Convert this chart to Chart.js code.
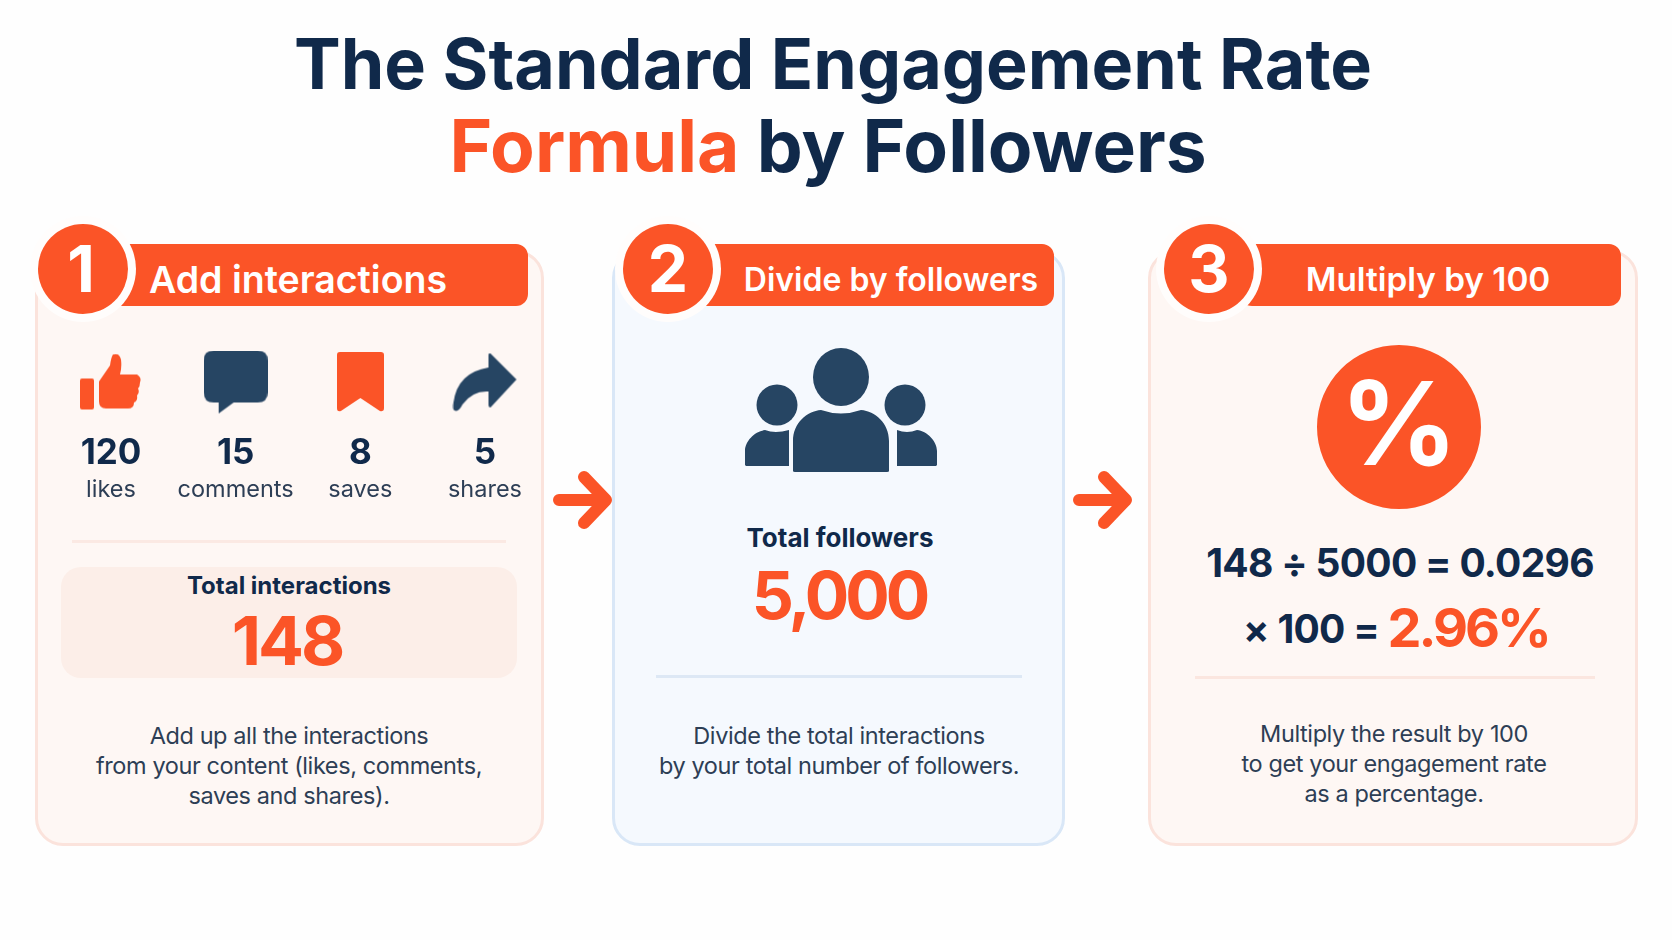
<!DOCTYPE html>
<html>
<head>
<meta charset="utf-8">
<title>The Standard Engagement Rate Formula by Followers</title>
<script src="https://cdn.jsdelivr.net/npm/chart.js@4"></script>
<style>
html,body{margin:0;padding:0;background:#fefefe;}
body{position:relative;width:1672px;height:940px;overflow:hidden;font-family:Inter,"Noto Sans",sans-serif;color:#10294a;}
.t{position:absolute;transform:translate(-50%,-50%);white-space:nowrap;text-align:center;}
.card{position:absolute;top:250px;height:590px;border-radius:28px;border:3px solid #fbe3dc;background:#fef7f4;box-sizing:content-box;}
.card.blue{border-color:#d9e7f7;background:#f5f9fe;}
.bar{position:absolute;top:244px;height:62px;background:#fb5427;border-radius:12px;}
.num{position:absolute;top:269px;width:90px;height:90px;margin:-45px 0 0 -45px;border-radius:50%;background:#fb5427;box-shadow:0 0 0 8px #fffdfc;}
.head{font-weight:600;color:#fff;top:279px;}
.digit{font-weight:700;color:#fff;top:268px;font-size:64px;}
.rule{position:absolute;height:3px;}
.desc{font-size:23.5px;line-height:30px;letter-spacing:-0.4px;color:#2d3e55;font-weight:400;}
.o{color:#fb5427;}
canvas{position:absolute;}
svg{position:absolute;}
</style>
</head>
<body>

<div class="t" style="left:833px;top:63px;font-size:70px;font-weight:700;"><span id="title1">The Standard Engagement Rate</span></div>
<div class="t" style="left:828px;top:145px;font-size:73px;font-weight:700;"><span class="o">Formula</span> by Followers</div>

<!-- cards -->
<div class="card" style="left:35px;width:503px;"></div>
<div class="card blue" style="left:612px;width:447px;"></div>
<div class="card" style="left:1148px;width:484px;"></div>

<div class="bar" style="left:110px;width:418px;"></div>
<div class="bar" style="left:690px;width:364px;"></div>
<div class="bar" style="left:1240px;width:381px;"></div>

<div class="num" style="left:83px;"></div>
<div class="num" style="left:668px;"></div>
<div class="num" style="left:1209px;"></div>

<div class="t digit" style="left:81px;">1</div>
<div class="t digit" style="left:668px;">2</div>
<div class="t digit" style="left:1209px;">3</div>

<div class="t head" style="left:298px;font-size:37.5px;">Add interactions</div>
<div class="t head" style="left:891px;font-size:32px;">Divide by followers</div>
<div class="t head" style="left:1428px;font-size:33.3px;">Multiply by 100</div>

<!-- step 1 -->
<canvas id="interactions" width="527" height="192" style="left:35px;top:332px;"></canvas>
<div class="rule" style="left:72px;top:540px;width:434px;background:#fbe9e3;"></div>
<div style="position:absolute;left:61px;top:567px;width:456px;height:111px;border-radius:20px;background:#fceee8;"></div>
<div class="t" style="left:289px;top:585px;font-size:24px;font-weight:700;">Total interactions</div>
<div class="t o" id="totalInt" style="left:287px;top:640px;font-size:68px;font-weight:700;letter-spacing:-3px;"></div>
<div class="t desc" style="left:289px;top:766px;">Add up all the interactions<br>from your content (likes, comments,<br>saves and shares).</div>

<!-- step 2 -->
<svg style="left:745px;top:345px;" width="193" height="128" viewBox="0 0 193 128" fill="#264563">
  <ellipse cx="96" cy="32" rx="28" ry="29"/>
  <path d="M48 126 V96 C48 78 62 66 76 65 Q96 72 116 65 C130 66 144 78 144 96 V126 Q144 127 142 127 H50 Q48 127 48 126 Z"/>
  <circle cx="32" cy="60" r="20.5"/>
  <circle cx="160" cy="60" r="20.5"/>
  <path d="M0 120 V106 C0 96 10 86 20 85 Q30 89 44 85 V121 H1 Z"/>
  <path d="M192 120 V106 C192 96 182 86 172 85 Q162 89 152 85 V121 H191 Z"/>
</svg>
<div class="t" style="left:840px;top:537px;font-size:26px;font-weight:700;">Total followers</div>
<div class="t o" id="totalFol" style="left:839px;top:595px;font-size:66px;font-weight:700;letter-spacing:-4px;"></div>
<div class="rule" style="left:656px;top:675px;width:366px;background:#dde8f5;"></div>
<div class="t desc" style="left:839px;top:751px;">Divide the total interactions<br>by your total number of followers.</div>

<!-- step 3 -->
<canvas id="percent" width="164" height="164" style="left:1317px;top:345px;"></canvas>
<div class="t" id="formula1" style="left:1400px;top:562px;font-size:39px;font-weight:700;letter-spacing:-0.7px;"></div>
<div class="t" style="left:1396px;top:627px;font-size:39px;font-weight:700;letter-spacing:-0.7px;"><span id="formula2" style="position:relative;top:-4px;"></span> <span class="o" id="rate" style="font-size:54px;font-weight:700;letter-spacing:-3px;"></span></div>
<div class="rule" style="left:1195px;top:676px;width:400px;background:#fbe6df;"></div>
<div class="t desc" style="left:1394px;top:764px;">Multiply the result by 100<br>to get your engagement rate<br>as a percentage.</div>

<!-- arrows -->
<svg style="left:553px;top:470px;" width="60" height="60" viewBox="0 0 60 60" fill="none" stroke="#fb5427" stroke-width="12" stroke-linecap="round" stroke-linejoin="round">
  <path d="M6 30 H52 M31 7 L53 30 L31 53"/>
</svg>
<svg style="left:1073px;top:470px;" width="60" height="60" viewBox="0 0 60 60" fill="none" stroke="#fb5427" stroke-width="12" stroke-linecap="round" stroke-linejoin="round">
  <path d="M6 30 H52 M31 7 L53 30 L31 53"/>
</svg>

<script>
//chart data
var interactionLabels = ['likes','comments','saves','shares'];
var interactionValues = [120,15,8,5];
var totalInteractions = 148;
var totalFollowers = 5000;
var ratio = 0.0296;
var multiplier = 100;
var ratePercent = 2.96;

var orange = '#fb5427';
var navy = '#264563';

document.getElementById('totalInt').textContent = totalInteractions;
document.getElementById('totalFol').textContent = totalFollowers.toLocaleString('en-US');
document.getElementById('formula1').textContent = totalInteractions + ' ÷ ' + totalFollowers + ' = ' + ratio;
document.getElementById('formula2').textContent = '× ' + multiplier + ' =';
document.getElementById('rate').textContent = ratePercent + '%';

// icons used as point styles
function icon(w, h, color, path) {
	var c = document.createElement('canvas');
	c.width = w;
	c.height = h;
	var g = c.getContext('2d');
	g.fillStyle = color;
	g.fill(new Path2D(path));
	return c;
}

var icons = [
	icon(62, 58, orange, 'M2 25 H12 Q14 25 14 27 V54 Q14 56 12 56 H2 Q0 56 0 54 V27 Q0 25 2 25 Z M19 28 L30 12 Q31 4 33 1 Q39 -1 41 6 Q42 14 40 21 L57 21 Q62 24 60 29 Q60 33 58 35 Q60 39 57 42 Q58 47 54 49 Q54 55 48 55 L26 55 Q19 55 19 48 Z'),
	icon(64, 64, navy, 'M10 0 H54 Q64 0 64 10 V42 Q64 52 54 52 H30 L15 63 V52 H10 Q0 52 0 42 V10 Q0 0 10 0 Z'),
	icon(47, 61, orange, 'M3 0 H44 Q47 0 47 3 V56 Q47 60 43 59 L23.5 46 L4 59 Q0 60 0 56 V3 Q0 0 3 0 Z'),
	icon(65, 60, navy, 'M38 1 L64 27 L38 55 Q36 55 36 52 V39 Q20 38 10 52 Q6 60 2 58 Q0 57 1 50 Q5 20 36 15 V3 Q36 0 38 1 Z')
];

// value above each category tick
var countLabels = {
	id: 'countLabels',
	afterDatasetsDraw: function(chart) {
		var ctx = chart.ctx;
		var meta = chart.getDatasetMeta(0);
		ctx.save();
		ctx.font = '700 35px Inter';
		ctx.fillStyle = '#10294a';
		ctx.textAlign = 'center';
		ctx.textBaseline = 'middle';
		meta.data.forEach(function(pt, i) {
			ctx.fillText(interactionValues[i], pt.x, pt.y + 71);
		});
		ctx.restore();
	}
};

new Chart(document.getElementById('interactions'), {
	type: 'line',
	data: {
		labels: interactionLabels,
		datasets: [{
			data: interactionLabels.map(function() { return 0.5; }),
			showLine: false,
			pointStyle: icons,
			clip: false
		}]
	},
	options: {
		responsive: false,
		animation: false,
		layout: {padding: {left: 76, right: 0, top: 0, bottom: 0}},
		plugins: {legend: {display: false}, tooltip: {enabled: false}},
		scales: {
			x: {
				offset: false,
				grid: {display: false},
				border: {display: false},
				ticks: {color: '#2d3e55', font: {size: 23.5, family: 'Inter'}, padding: 40, maxRotation: 0, autoSkip: false, align: 'center'}
			},
			y: {display: false, min: 0, max: 1}
		}
	},
	plugins: [countLabels]
});

// percent disc
var percentSign = {
	id: 'percentSign',
	afterDatasetsDraw: function(chart) {
		var ctx = chart.ctx;
		var arc = chart.getDatasetMeta(0).data[0];
		ctx.save();
		ctx.font = '700 116px Inter';
		ctx.fillStyle = '#fff';
		ctx.textAlign = 'center';
		ctx.textBaseline = 'middle';
		ctx.fillText('%', arc.x, arc.y + 3);
		ctx.restore();
	}
};

new Chart(document.getElementById('percent'), {
	type: 'pie',
	data: {
		labels: ['rate'],
		datasets: [{data: [multiplier], backgroundColor: orange, borderWidth: 0}]
	},
	options: {
		responsive: false,
		animation: false,
		plugins: {legend: {display: false}, tooltip: {enabled: false}}
	},
	plugins: [percentSign]
});
</script>
</body>
</html>
